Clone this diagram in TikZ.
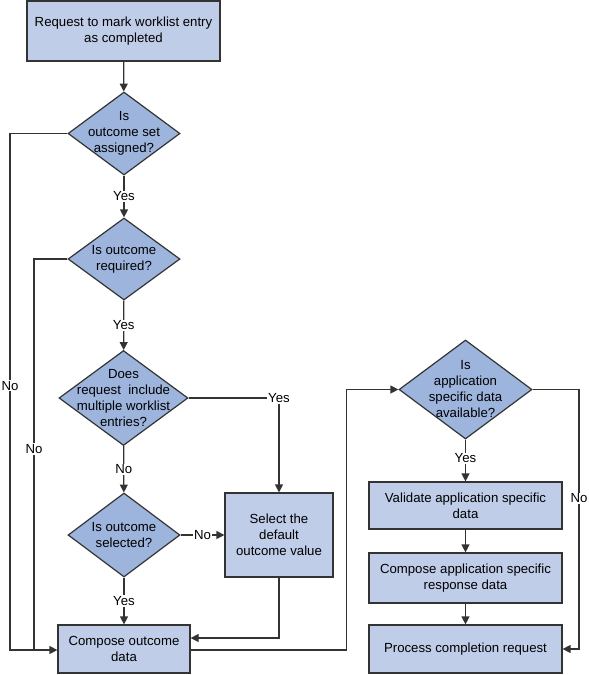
\documentclass[tikz,border=0pt]{standalone}
\usepackage{fontspec}
\setmainfont{Liberation Sans}
\usetikzlibrary{arrows.meta,shapes.geometric,calc}
\definecolor{boxfill}{RGB}{191,205,232}
\definecolor{diafill}{RGB}{157,180,221}
\definecolor{linec}{RGB}{51,51,51}
\tikzset{
  base/.style={font=\fontsize{13.2}{16}\selectfont, align=center, inner sep=0pt},
  procbox/.style={base, draw=linec, line width=1.2pt, fill=boxfill, rectangle},
  dia/.style={base, draw=linec, line width=1.2pt, fill=diafill, shape=diamond},
  dtext/.style={base},
  conn/.style={draw=linec, line width=1.2pt},
  arr/.style={conn, -{Triangle[length=8pt,width=8pt]}},
  lbl/.style={base, fill=white, inner sep=1pt, text=black}
}
\begin{document}
\begin{tikzpicture}[x=1pt,y=-1pt]
\useasboundingbox (0,0) rectangle (589,675);
% process boxes
\node[procbox, minimum width=193pt, minimum height=60pt] (top) at (123.5,31) {Request to mark worklist entry\\as completed};
\node[procbox, minimum width=108pt, minimum height=84pt] (sel) at (279,535) {Select the\\default\\outcome value};
\node[procbox, minimum width=132pt, minimum height=48pt] (comp) at (124,649) {Compose outcome\\data};
\node[procbox, minimum width=193pt, minimum height=47pt] (val) at (465.5,505.5) {Validate application specific\\data};
\node[procbox, minimum width=193pt, minimum height=50pt] (capp) at (465.5,578) {Compose application specific\\response data};
\node[procbox, minimum width=193pt, minimum height=48pt] (proc) at (465.5,649) {Process completion request};
% decisions
\node[dia, minimum width=112pt, minimum height=83pt] (d1) at (124,133.5) {};
\node[dtext] (d1t) at (d1.center) {Is\\outcome set\\assigned?};
\node[dia, minimum width=112pt, minimum height=82pt] (d2) at (124,259) {};
\node[dtext] (d2t) at (d2.center) {Is outcome\\required?};
\node[dia, minimum width=129pt, minimum height=95pt] (d3) at (123.5,398) {};
\node[dtext] (d3t) at (d3.center) {Does\\request\ \ include\\multiple worklist\\entries?};
\node[dia, minimum width=112pt, minimum height=84pt] (d4) at (124,535) {};
\node[dtext] (d4t) at (d4.center) {Is outcome\\selected?};
\node[dia, minimum width=133pt, minimum height=99pt] (d5) at (465.5,389.5) {};
\node[dtext] (d5t) at (d5.center) {Is\\application\\specific data\\available?};
% helper coordinates
\coordinate (lo) at (10,650);
\coordinate (li) at (34,650);
\coordinate (ro) at (579,649);
% connectors
\draw[arr] (top) -- (d1);
\draw[arr] (d1) -- node[lbl] {Yes} (d2);
\draw[arr] (d2) -- node[lbl] {Yes} (d3);
\draw[arr] (d3) -- node[lbl] {No} (d4);
\draw[arr] (d4) -- node[lbl] {Yes} (comp);
\draw[arr] (d4.east) -- node[lbl] {No} (sel.west);
\draw[arr] (d3.east) -| node[lbl, pos=0.5] {Yes} (sel.north);
\draw[conn] (d2.west) -| node[lbl, pos=0.743] {No} (li);
\draw[arr] (d1.west) -| node[lbl, pos=0.744] {No} (lo) -- (lo -| comp.west);
\draw[arr] (sel.south) |- ([yshift=11pt]comp.east);
\draw[arr] (comp.east |- lo) -- ++(156,0) |- (d5.west);
\draw[arr] (d5) -- node[lbl, pos=0.45] {Yes} (val);
\draw[arr] (val) -- (capp);
\draw[arr] (capp) -- (proc);
\draw[arr] (d5.east) -| node[lbl, pos=0.71] {No} (ro) -- (proc.east);
\end{tikzpicture}
\end{document}
